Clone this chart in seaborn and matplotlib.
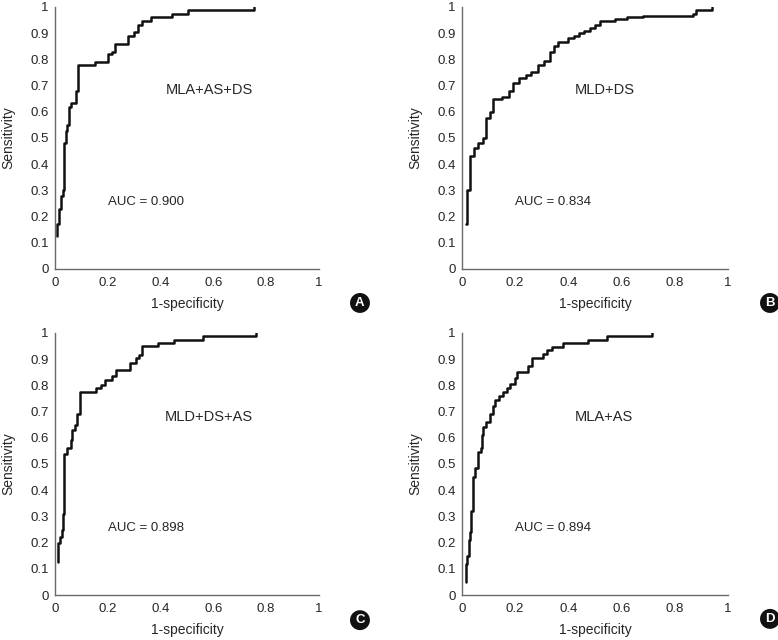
"""
ROC curves for four predictor combinations (panels A-D).
"""

import numpy as np
import pandas as pd
import matplotlib
matplotlib.use('Agg')
import matplotlib.pyplot as plt
import seaborn as sns

sns.set_style("white")
plt.rcParams['font.family'] = ['Liberation Sans Narrow', 'Liberation Sans', 'DejaVu Sans']

# Step vertices (start of each sensitivity level)
fpr_a = [0.009, 0.009, 0.016, 0.022, 0.030, 0.035, 0.040, 0.046, 0.052, 0.060, 0.080, 0.088,
         0.150, 0.200, 0.215, 0.227, 0.275, 0.300, 0.315, 0.330, 0.365, 0.445, 0.505, 0.755]
tpr_a = [0.125, 0.170, 0.230, 0.280, 0.300, 0.480, 0.525, 0.550, 0.620, 0.635, 0.680, 0.780,
         0.790, 0.820, 0.830, 0.860, 0.890, 0.905, 0.930, 0.945, 0.960, 0.975, 0.990, 1.000]

fpr_b = [0.015, 0.020, 0.030, 0.045, 0.060, 0.080, 0.090, 0.105, 0.115, 0.150, 0.175, 0.190,
         0.215, 0.240, 0.260, 0.285, 0.310, 0.330, 0.345, 0.360, 0.400, 0.420, 0.440, 0.460,
         0.480, 0.500, 0.520, 0.575, 0.620, 0.680, 0.870, 0.880, 0.940]
tpr_b = [0.170, 0.300, 0.430, 0.460, 0.480, 0.500, 0.575, 0.600, 0.650, 0.655, 0.680, 0.710,
         0.730, 0.740, 0.750, 0.780, 0.795, 0.830, 0.850, 0.865, 0.880, 0.890, 0.900, 0.910,
         0.920, 0.930, 0.945, 0.955, 0.960, 0.965, 0.975, 0.990, 1.000]

fpr_c = [0.013, 0.013, 0.020, 0.025, 0.030, 0.035, 0.045, 0.060, 0.065, 0.075, 0.085, 0.095,
         0.155, 0.175, 0.190, 0.215, 0.230, 0.285, 0.305, 0.320, 0.330, 0.390, 0.450, 0.560, 0.760]
tpr_c = [0.125, 0.200, 0.220, 0.250, 0.310, 0.540, 0.560, 0.590, 0.630, 0.650, 0.690, 0.775,
         0.790, 0.800, 0.820, 0.835, 0.860, 0.885, 0.905, 0.915, 0.950, 0.960, 0.975, 0.990, 1.000]

fpr_d = [0.015, 0.015, 0.020, 0.025, 0.030, 0.035, 0.040, 0.050, 0.060, 0.070, 0.075, 0.080,
         0.090, 0.105, 0.115, 0.125, 0.140, 0.155, 0.170, 0.180, 0.198, 0.205, 0.250, 0.265,
         0.305, 0.320, 0.340, 0.380, 0.475, 0.545, 0.715]
tpr_d = [0.050, 0.120, 0.150, 0.210, 0.240, 0.320, 0.450, 0.485, 0.545, 0.560, 0.610, 0.640,
         0.660, 0.690, 0.720, 0.745, 0.760, 0.775, 0.790, 0.805, 0.830, 0.850, 0.875, 0.905,
         0.920, 0.935, 0.945, 0.960, 0.975, 0.990, 1.000]

modelos = ['MLA+AS+DS', 'MLD+DS', 'MLD+DS+AS', 'MLA+AS']
aucs = ['0.900', '0.834', '0.898', '0.894']
letras = ['A', 'B', 'C', 'D']

curvas = [(fpr_a, tpr_a), (fpr_b, tpr_b), (fpr_c, tpr_c), (fpr_d, tpr_d)]

# axes rectangles [left, bottom, width, height] in figure fractions
posicoes = [
    [0.0707, 0.5797, 0.3393, 0.4094],
    [0.5938, 0.5797, 0.3419, 0.4094],
    [0.0707, 0.0703, 0.3393, 0.4094],
    [0.5938, 0.0703, 0.3419, 0.4094],
]
pos_modelo = [(0.584, 0.684), (0.536, 0.684), (0.584, 0.679), (0.532, 0.679)]
pos_letra = [(0.4627, 0.5266), (0.9897, 0.5266), (0.4627, 0.031), (0.9897, 0.033)]

fig = plt.figure(figsize=(7.78, 6.4), dpi=100)

for i, (fpr, tpr) in enumerate(curvas):
    ax = fig.add_axes(posicoes[i])
    df = pd.DataFrame({'fpr': fpr, 'tpr': tpr})
    sns.lineplot(data=df, x='fpr', y='tpr', sort=False, estimator=None, ax=ax,
                 color='#111111', linewidth=1.8, drawstyle='steps-post')

    ax.set_xlim(0, 1)
    ax.set_ylim(0, 1)
    ax.set_xticks(np.arange(0, 1.01, 0.2))
    ax.set_xticklabels(['0', '0.2', '0.4', '0.6', '0.8', '1'])
    ax.set_yticks(np.arange(0, 1.01, 0.1))
    ax.set_yticklabels(['0'] + [f'{v:.1f}' for v in np.arange(0.1, 0.95, 0.1)] + ['1'])

    for lado in ['top', 'right']:
        ax.spines[lado].set_visible(False)
    for lado in ['left', 'bottom']:
        ax.spines[lado].set_color('#6a6a6a')
        ax.spines[lado].set_linewidth(1.0)

    ax.tick_params(axis='y', direction='in', length=3.5, width=0.8, color='#6a6a6a',
                   labelsize=9.5, pad=4.5)
    ax.tick_params(axis='x', direction='in', length=3.5, width=0.8, color='#6a6a6a',
                   labelsize=9.5, pad=5.5)
    ax.set_xlabel('1-specificity', fontsize=10, labelpad=6)
    ax.set_ylabel('Sensitivity', fontsize=10, labelpad=11)

    ax.text(pos_modelo[i][0], pos_modelo[i][1], modelos[i], fontsize=10.5,
            ha='center', va='center', transform=ax.transAxes)
    ax.text(0.2, 0.255, f'AUC = {aucs[i]}', fontsize=9.5, ha='left', va='center',
            transform=ax.transAxes)

    fig.text(pos_letra[i][0], pos_letra[i][1], letras[i], fontsize=9.5, fontweight='bold',
             color='white', ha='center', va='center',
             family=['Liberation Sans', 'DejaVu Sans'],
             bbox=dict(boxstyle='circle,pad=0.3', facecolor='#111111', edgecolor='none'))

plt.savefig('out.png', dpi=100)
plt.close()
